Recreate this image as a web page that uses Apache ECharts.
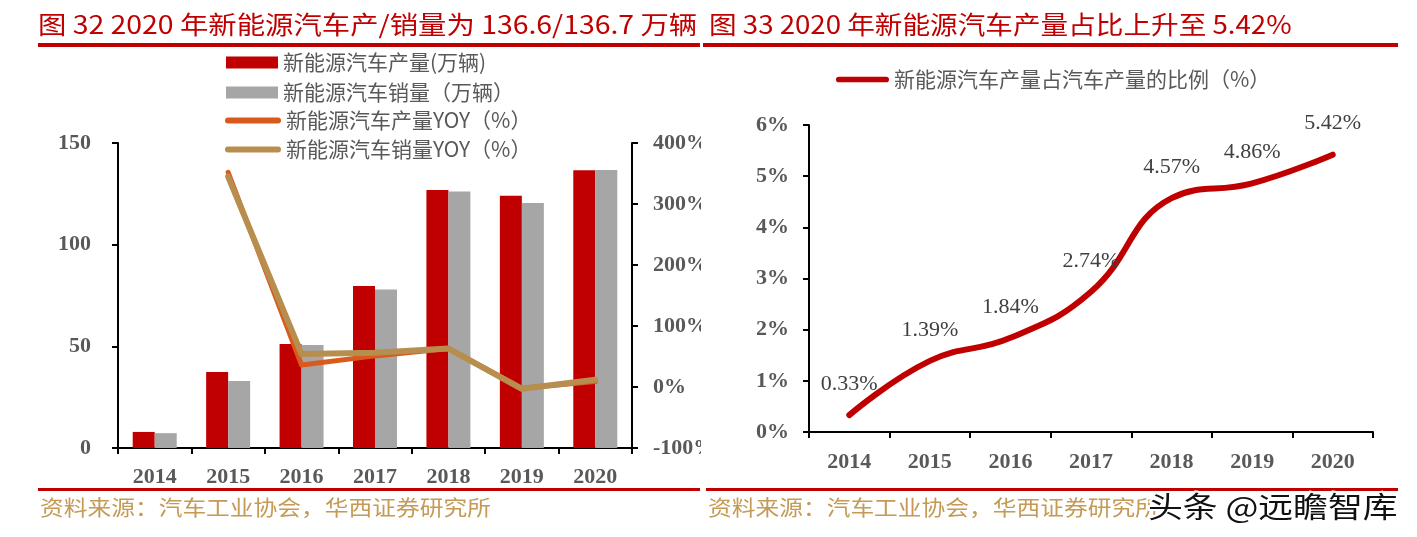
<!DOCTYPE html>
<html><head><meta charset="utf-8">
<script src="https://cdn.jsdelivr.net/npm/echarts@6/dist/echarts.min.js"></script>
<style>
html,body{margin:0;padding:0;background:#fff;}
#c1{position:absolute;left:0;top:0;width:701px;height:537px;}
#c2{position:absolute;left:701px;top:0;width:716px;height:537px;}
</style></head>
<body><div id="c1"></div><div id="c2"></div>
<script>
// ---- data ----
const years = ['2014','2015','2016','2017','2018','2019','2020'];
const nevProduction = [7.9, 37.4, 51.2, 79.7, 126.9, 124.0, 136.6];
const nevSales      = [7.3, 33.0, 50.6, 78.0, 126.2, 120.5, 136.7];
const productionYoy = [null, 352, 36, 51, 63, -2, 9];
const salesYoy      = [null, 345, 54, 56, 63, -3, 12];
const nevShare      = [0.33, 1.39, 1.84, 2.74, 4.57, 4.86, 5.42];

const leftTitle  = '图 32 2020 年新能源汽车产/销量为 136.6/136.7 万辆';
const rightTitle = '图 33 2020 年新能源汽车产量占比上升至 5.42%';
const sourceText = '资料来源：汽车工业协会，华西证券研究所';
const watermark  = '头条 @远瞻智库';
const nameProd = '新能源汽车产量(万辆)';
const nameSales = '新能源汽车销量（万辆）';
const nameProdYoy = '新能源汽车产量YOY（%）';
const nameSalesYoy = '新能源汽车销量YOY（%）';
const nameShare = '新能源汽车产量占汽车产量的比例（%）';

// ---- styles ----
const RED = '#C00000', GRAY = '#A6A6A6', ORANGE = '#D95A1C', TAN = '#B88E4E';
const CJK = '"Noto Sans CJK SC", sans-serif';
const SERIF = '"Liberation Serif", "Times New Roman", serif';
const axisLab = {color:'#595959', fontFamily:SERIF, fontWeight:'bold', fontSize:22};
const axisLine = {show:true, lineStyle:{color:'#000', width:2}};
const axisTick = {show:true, inside:false, length:6, lineStyle:{color:'#000', width:2}};
const capsule = 'path://M3,0 L53,0 A3,3 0 0 1 53,6 L3,6 A3,3 0 0 1 3,0 Z';
const legendText = {color:'#595959', fontFamily:CJK, fontSize:21, lineHeight:20};

function titleEl(x, text, sx){
  return {type:'text', x:x, y:24, scaleX:sx,
    style:{text:text, font:'25px ' + CJK, fill:RED, align:'left', verticalAlign:'middle'}};
}
function sourceEl(x){
  return {type:'text', x:x, y:507, scaleX:1.13,
    style:{text:sourceText, font:'21px ' + CJK, fill:'#C49A54', align:'left', verticalAlign:'middle'}};
}

// ---- left chart ----
const c1 = echarts.init(document.getElementById('c1'));
c1.setOption({
  animation:false,
  backgroundColor:'#fff',
  grid:{left:118, right:69, top:143, bottom:89, containLabel:false, outerBoundsMode:'none'},
  legend:[
    {data:[nameProd, nameSales], orient:'vertical', left:221, top:47, itemWidth:52, itemHeight:12,
     itemGap:9, icon:'rect', textStyle:legendText, selectedMode:false},
    {data:[nameProdYoy, nameSalesYoy], orient:'vertical', left:220, top:105, itemWidth:56, itemHeight:6,
     itemGap:8, icon:capsule, textStyle:legendText, selectedMode:false}
  ],
  xAxis:{type:'category', data:years, axisLine:axisLine, axisTick:axisTick,
    axisLabel:Object.assign({margin:18}, axisLab)},
  yAxis:[
    {type:'value', min:0, max:150, interval:50, axisLine:axisLine, axisTick:axisTick,
     splitLine:{show:false}, axisLabel:Object.assign({margin:27}, axisLab)},
    {type:'value', min:-100, max:400, interval:100, position:'right', axisLine:axisLine, axisTick:axisTick,
     splitLine:{show:false}, axisLabel:Object.assign({margin:21, formatter:'{value}%'}, axisLab)}
  ],
  series:[
    {name:nameProd, type:'bar', data:nevProduction, barWidth:22, barGap:'0%', itemStyle:{color:RED}},
    {name:nameSales, type:'bar', data:nevSales, barWidth:22, barGap:'0%', itemStyle:{color:GRAY}},
    {name:nameProdYoy, type:'line', yAxisIndex:1, data:productionYoy, symbol:'none',
     itemStyle:{color:ORANGE}, lineStyle:{color:ORANGE, width:5, cap:'round', join:'round'}},
    {name:nameSalesYoy, type:'line', yAxisIndex:1, data:salesYoy, symbol:'none',
     itemStyle:{color:TAN}, lineStyle:{color:TAN, width:6, cap:'round', join:'round'}}
  ],
  graphic:[
    titleEl(38, leftTitle, 1.135),
    {type:'rect', shape:{x:38, y:43, width:662, height:4}, style:{fill:RED}},
    {type:'rect', shape:{x:38, y:488, width:662, height:3}, style:{fill:RED}},
    sourceEl(40)
  ]
});

// ---- right chart ----
const c2 = echarts.init(document.getElementById('c2'));
c2.setOption({
  animation:false,
  backgroundColor:'#fff',
  grid:{left:108, right:44, top:125, bottom:105, containLabel:false, outerBoundsMode:'none'},
  legend:{data:[nameShare], left:130, top:64, itemWidth:53, itemHeight:6, icon:capsule,
    textStyle:legendText, selectedMode:false},
  xAxis:{type:'category', data:years, axisLine:axisLine, axisTick:axisTick,
    axisLabel:Object.assign({margin:19}, axisLab)},
  yAxis:{type:'value', min:0, max:6, interval:1, axisLine:axisLine, axisTick:axisTick,
    splitLine:{show:false}, axisLabel:Object.assign({margin:20, formatter:'{value}%'}, axisLab)},
  series:[
    {name:nameShare, type:'line', data:nevShare, smooth:0.45, symbol:'circle', symbolSize:2, showSymbol:true,
     itemStyle:{color:RED}, lineStyle:{color:RED, width:6, cap:'round', join:'round'},
     label:{show:true, position:'top', distance:19, formatter:'{c}%', color:'#404040',
       fontFamily:SERIF, fontSize:22}}
  ],
  graphic:[
    titleEl(8, rightTitle, 1.105),
    {type:'rect', shape:{x:2, y:43, width:695, height:4}, style:{fill:RED}},
    {type:'rect', shape:{x:5, y:488, width:692, height:3}, style:{fill:RED}},
    sourceEl(7),
    {type:'text', x:447, y:507, scaleX:1.2, z:100,
     style:{text:watermark, font:'29px ' + CJK, fill:'#111', stroke:'#fff', lineWidth:4,
       strokeFirst:true, align:'left', verticalAlign:'middle'}}
  ]
});
</script>
</body></html>
